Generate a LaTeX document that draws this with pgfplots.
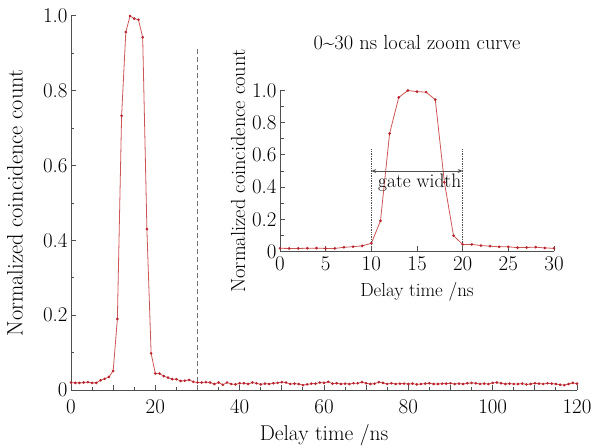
\documentclass[border=0pt]{standalone}
\usepackage{fontspec}
\usepackage{pgfplots}
\pgfplotsset{compat=1.18}
\usepackage{pgfplotstable}
\usetikzlibrary{arrows.meta}

\definecolor{curve}{RGB}{205,85,85}
\definecolor{dots}{RGB}{185,35,45}
\definecolor{axisgray}{RGB}{80,80,80}

% delay (ns) vs normalized coincidence count
\pgfplotstableread{
x y
0 0.020
1 0.019
2 0.019
3 0.020
4 0.021
5 0.019
6 0.019
7 0.026
8 0.030
9 0.035
10 0.051
11 0.190
12 0.733
13 0.957
14 1.000
15 0.993
16 0.990
17 0.943
18 0.430
19 0.098
20 0.044
21 0.044
22 0.037
23 0.033
24 0.029
25 0.029
26 0.024
27 0.025
28 0.027
29 0.022
30 0.020
31 0.020
32 0.021
33 0.020
34 0.016
35 0.020
36 0.014
37 0.020
38 0.016
39 0.015
40 0.018
41 0.018
42 0.016
43 0.020
44 0.018
45 0.015
46 0.017
47 0.016
48 0.018
49 0.019
50 0.021
51 0.020
52 0.016
53 0.017
54 0.016
55 0.013
56 0.015
57 0.017
58 0.017
59 0.020
60 0.019
61 0.022
62 0.017
63 0.018
64 0.016
65 0.017
66 0.016
67 0.018
68 0.018
69 0.021
70 0.018
71 0.016
72 0.017
73 0.021
74 0.019
75 0.016
76 0.018
77 0.016
78 0.017
79 0.017
80 0.016
81 0.017
82 0.015
83 0.016
84 0.017
85 0.018
86 0.016
87 0.016
88 0.017
89 0.017
90 0.018
91 0.016
92 0.017
93 0.016
94 0.018
95 0.019
96 0.018
97 0.016
98 0.017
99 0.016
100 0.019
101 0.020
102 0.018
103 0.016
104 0.017
105 0.016
106 0.016
107 0.017
108 0.015
109 0.016
110 0.018
111 0.017
112 0.016
113 0.018
114 0.017
115 0.016
116 0.014
117 0.013
118 0.016
119 0.019
120 0.017
}\coincdata

\pgfplotsset{
  zoomstyle/.style={
    scale only axis,
    axis x line=bottom, axis y line=left,
    axis line style={-, axisgray, line width=1pt},
    tick style={axisgray, line width=1pt},
    tick align=inside,
    major tick length=5bp, minor tick length=3.5bp,
    ymin=0, ymax=1.0,
    ytick={0,0.2,...,1.0},
    yticklabels={0,0.2,0.4,0.6,0.8,1.0},
    minor y tick num=1,
    /pgf/number format/assume math mode=true,
    tick label style={font=\fontsize{21}{25}\selectfont},
  },
  curvestyle/.style={
    curve, line width=0.8pt,
    mark=*, mark size=0.9pt, mark options={fill=dots, draw=dots},
  },
}

\begin{document}
\begin{tikzpicture}
\begin{axis}[
  zoomstyle,
  width=506bp, height=374bp,
  xmin=0, xmax=120,
  xtick={0,10,...,120},
  xticklabels={0,,20,,40,,60,,80,,100,,120},
  minor x tick num=1,
  xticklabel style={yshift=-6bp},
  xlabel={Delay time /ns},
  ylabel={Normalized coincidence count},
  x label style={font=\fontsize{21.5}{25}\selectfont, at={(axis description cs:0.5,0)}, anchor=center, yshift=-45bp},
  y label style={font=\fontsize{22.5}{26}\selectfont, at={(axis description cs:0,0.5)}, anchor=center, yshift=56bp},
  clip=false,
]
\addplot[curvestyle] table[x=x, y=y] {\coincdata};
\draw[axisgray!80, line width=1pt, dash pattern=on 5bp off 3bp] (axis cs:30,0) -- (axis cs:30,0.915);
\end{axis}

\begin{axis}[
  zoomstyle,
  at={(209bp,138.5bp)}, anchor=south west,
  width=274bp, height=161bp,
  xmin=0, xmax=30,
  xtick={0,5,...,30},
  xticklabel style={yshift=-2bp},
  xlabel={Delay time /ns},
  ylabel={Normalized coincidence count},
  x label style={font=\fontsize{19}{23}\selectfont, at={(axis description cs:0.5,0)}, anchor=center, yshift=-40bp},
  y label style={font=\fontsize{20.5}{24}\selectfont, at={(axis description cs:0,0.5)}, anchor=center, yshift=42bp},
  title={0\textasciitilde30 ns local zoom curve},
  title style={font=\fontsize{20.5}{24}\selectfont, at={(axis description cs:0.5,1)}, anchor=center, yshift=42bp},
  clip=false,
]
\addplot[curvestyle, restrict x to domain=0:30] table[x=x, y=y] {\coincdata};
\draw[axisgray, densely dotted, line width=0.7pt] (axis cs:10,0) -- (axis cs:10,0.64);
\draw[axisgray, densely dotted, line width=0.7pt] (axis cs:20,0) -- (axis cs:20,0.64);
\draw[axisgray, line width=0.7pt, {Stealth[length=5bp,width=4bp]}-{Stealth[length=5bp,width=4bp]}] (axis cs:10,0.50) -- (axis cs:20,0.50);
\node[font=\fontsize{19.5}{23}\selectfont] at (axis cs:15.3,0.43) {gate width};
\end{axis}

\pgfresetboundingbox
\path (-71bp,-57bp) rectangle (526bp,390bp);
\end{tikzpicture}
\end{document}
